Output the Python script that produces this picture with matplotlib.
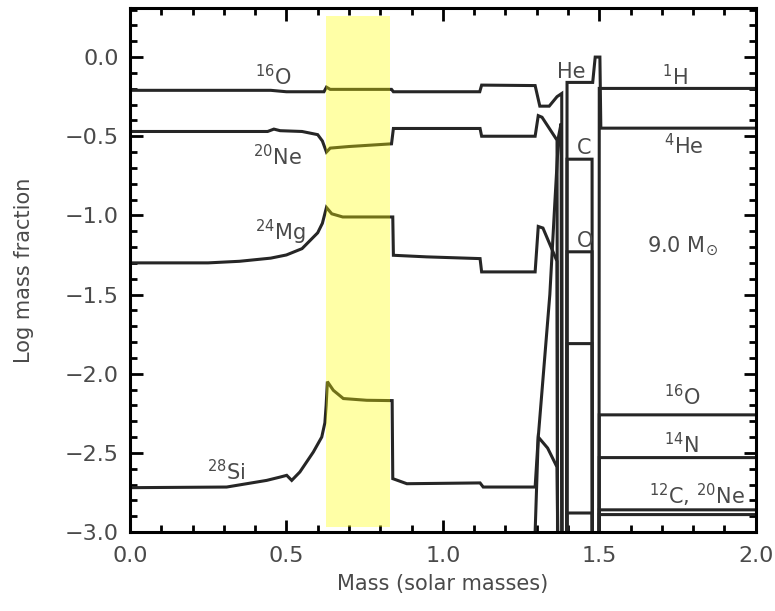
import numpy as np
import matplotlib
matplotlib.use("Agg")
import matplotlib.pyplot as plt
from matplotlib.ticker import MultipleLocator

# composition profile of a 9.0 Msun model
# core species (ONe core, then the He shell, then the envelope)
o16_mass = [0.0, 0.45, 0.50, 0.62, 0.628, 0.64, 0.836, 0.842, 1.118, 1.124,
            1.295, 1.31, 1.34, 1.365, 1.38, 1.382, 1.396, 1.397, 1.477, 1.478,
            1.499, 1.50, 2.0]
o16_log = [-0.21, -0.21, -0.219, -0.219, -0.19, -0.204, -0.204, -0.219, -0.219, -0.177,
           -0.18, -0.31, -0.31, -0.25, -0.23, -3.5, -3.5, -1.23, -1.23, -3.5,
           -3.5, -2.26, -2.26]

ne20_mass = [0.0, 0.44, 0.46, 0.48, 0.55, 0.60, 0.615, 0.628, 0.64, 0.70, 0.836,
             0.842, 1.119, 1.124, 1.295, 1.305, 1.317, 1.365, 1.367, 1.396, 1.397,
             1.477, 1.478, 1.499, 1.50, 2.0]
ne20_log = [-0.47, -0.47, -0.455, -0.465, -0.47, -0.49, -0.53, -0.60, -0.575, -0.565, -0.548,
            -0.451, -0.451, -0.50, -0.50, -0.37, -0.38, -0.525, -3.5, -3.5, -1.81,
            -1.81, -3.5, -3.5, -2.89, -2.89]

mg24_mass = [0.0, 0.25, 0.35, 0.45, 0.50, 0.55, 0.60, 0.615, 0.628, 0.645, 0.68,
             0.840, 0.842, 0.948, 1.119, 1.124, 1.295, 1.305, 1.32, 1.365, 1.367,
             1.396, 1.397, 1.477, 1.478]
mg24_log = [-1.30, -1.30, -1.29, -1.27, -1.25, -1.21, -1.11, -1.05, -0.95, -0.99, -1.01,
            -1.01, -1.252, -1.262, -1.273, -1.357, -1.357, -1.07, -1.08, -1.29, -3.5,
            -3.5, -2.88, -2.88, -3.5]

si28_mass = [0.0, 0.309, 0.373, 0.437, 0.48, 0.501, 0.517, 0.543, 0.586, 0.613, 0.623,
             0.627, 0.631, 0.65, 0.682, 0.757, 0.838, 0.840, 0.885, 1.119, 1.129,
             1.295, 1.305, 1.335, 1.365, 1.37]
si28_log = [-2.72, -2.716, -2.695, -2.674, -2.653, -2.642, -2.674, -2.621, -2.495, -2.40, -2.31,
            -2.20, -2.05, -2.105, -2.157, -2.168, -2.17, -2.663, -2.695, -2.69, -2.716,
            -2.716, -2.40, -2.47, -2.59, -3.5]

c12_mass = [1.29, 1.295, 1.305, 1.342, 1.358, 1.37, 1.378, 1.38, 1.396, 1.397,
            1.477, 1.478, 1.499, 1.50, 2.0]
c12_log = [-3.5, -3.0, -2.4, -1.5, -0.92, -0.5, -0.42, -3.5, -3.5, -0.645,
           -0.645, -3.5, -3.5, -2.86, -2.86]

he4_mass = [1.37, 1.396, 1.397, 1.479, 1.487, 1.502, 1.505, 2.0]
he4_log = [-3.5, -3.5, -0.16, -0.16, 0.0, 0.0, -0.449, -0.449]

h1_mass = [1.499, 1.50, 2.0]
h1_log = [-3.5, -0.198, -0.198]

n14_mass = [1.499, 1.50, 2.0]
n14_log = [-3.5, -2.53, -2.53]

band_mass = [0.627, 0.83]
band_log = [-2.97, 0.26]

# label text, anchor (mass, log)
labels = [r"$^{16}$O", r"$^{20}$Ne", r"$^{24}$Mg", r"$^{28}$Si", "He", "C", "O",
          r"9.0 M$_{\odot}$", r"$^{1}$H", r"$^{4}$He", r"$^{16}$O", r"$^{14}$N",
          r"$^{12}$C, $^{20}$Ne"]
label_mass = [0.40, 0.393, 0.40, 0.246, 1.365, 1.428, 1.428, 1.653, 1.70, 1.707,
              1.707, 1.707, 1.659]
label_log = [-0.18, -0.683, -1.157, -2.674, -0.13, -0.613, -1.20, -1.23, -0.177,
             -0.613, -2.20, -2.503, -2.826]

line_col = "#262626"
text_col = "#4a4a4a"

fig = plt.figure(figsize=(7.75, 6.11), dpi=100)
ax = fig.add_axes([0.1677, 0.1293, 0.8074, 0.8576])

for m, v in [(o16_mass, o16_log), (ne20_mass, ne20_log), (mg24_mass, mg24_log),
             (si28_mass, si28_log), (c12_mass, c12_log), (he4_mass, he4_log),
             (h1_mass, h1_log), (n14_mass, n14_log)]:
    ax.plot(m, v, color=line_col, lw=2.2, solid_joinstyle="miter")

# translucent band drawn over the lines
ax.fill_between(band_mass, band_log[0], band_log[1], color="#ffff00",
                alpha=0.35, lw=0, zorder=5)

for t, m, v in zip(labels, label_mass, label_log):
    ax.text(m, v, t, fontsize=15, color=text_col, ha="left", va="baseline")

ax.set_xlim(0.0, 2.0)
ax.set_ylim(-3.0, 0.31)
ax.xaxis.set_major_locator(MultipleLocator(0.5))
ax.xaxis.set_minor_locator(MultipleLocator(0.1))
ax.yaxis.set_major_locator(MultipleLocator(0.5))
ax.yaxis.set_minor_locator(MultipleLocator(0.1))
ax.xaxis.set_major_formatter(plt.FuncFormatter(lambda v, p: f"{v:.1f}"))
ax.yaxis.set_major_formatter(
    plt.FuncFormatter(lambda v, p: f"{v:.1f}".replace("-", "\u2212")))
ax.tick_params(which="both", direction="in", top=True, right=True, width=2,
               colors="black", labelcolor=text_col, labelsize=16)
ax.tick_params(which="major", length=9)
ax.tick_params(which="minor", length=5)
ax.tick_params(axis="y", pad=8)
ax.tick_params(axis="x", pad=10)
for s in ax.spines.values():
    s.set_linewidth(2.2)

ax.set_xlabel("Mass (solar masses)", fontsize=15, color=text_col, labelpad=6)
ax.set_ylabel("Log mass fraction", fontsize=15, color=text_col, labelpad=22)

fig.savefig("out.png", dpi=100)
